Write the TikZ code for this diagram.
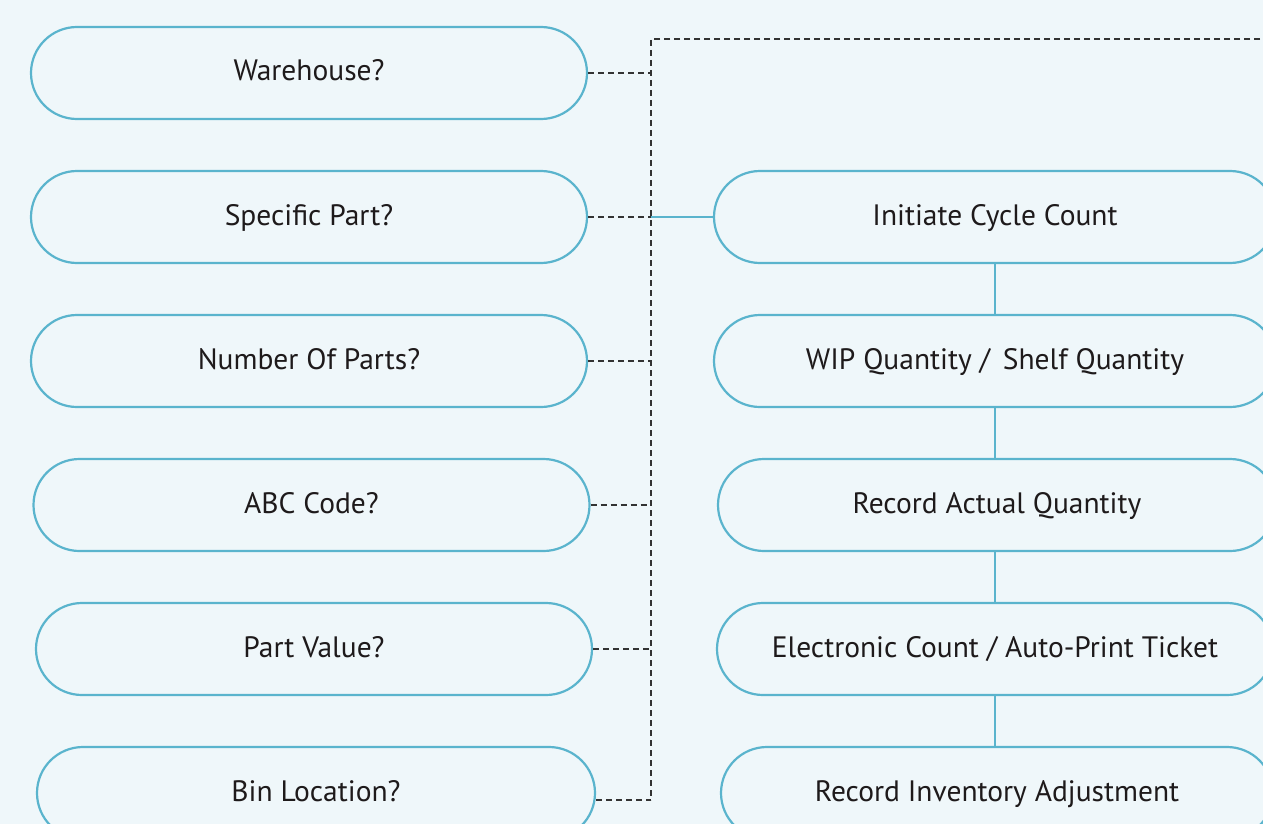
\documentclass[tikz,border=0pt]{standalone}
\usepackage{fontspec}
\setmainfont{PT Sans}
\definecolor{bg}{HTML}{EFF7FA}
\definecolor{tealb}{HTML}{5AB4CD}
\definecolor{txt}{HTML}{1E1A1B}
\definecolor{dashc}{HTML}{333333}
\begin{document}
\begin{tikzpicture}[x=1pt,y=-1pt,
 pill/.style={draw=tealb, line width=2.2pt, rounded corners=46pt, minimum height=92pt, inner sep=0pt, text height=22pt, text depth=6pt, text=txt, font=\fontsize{29.5}{32}\selectfont},
 dashline/.style={draw=dashc, line width=1.8pt, dash pattern=on 6pt off 4pt},
 solidline/.style={draw=tealb, line width=2.2pt}]
\fill[bg] (0,0) rectangle (1263,824);
\useasboundingbox (0,0) rectangle (1263,824);
\clip (0,0) rectangle (1263,824);
% left column
\node[pill, minimum width=556pt] (L1) at (309,73) {Warehouse?};
\node[pill, minimum width=556pt] (L2) at (309,217) {Specific Part?};
\node[pill, minimum width=556pt] (L3) at (309,361) {Number Of Parts?};
\node[pill, minimum width=556pt] (L4) at (311.5,505) {ABC Code?};
\node[pill, minimum width=556pt] (L5) at (314,649) {Part Value?};
\node[pill, minimum width=558pt] (L6) at (316,793) {Bin Location?};
% right column
\node[pill, minimum width=562pt] (R1) at (995,217) {Initiate Cycle Count};
\node[pill, minimum width=562pt] (R2) at (995,361) {WIP Quantity /\, Shelf Quantity};
\node[pill, minimum width=558pt] (R3) at (997,505) {Record Actual Quantity};
\node[pill, minimum width=556pt] (R4) at (995,649) {Electronic Count / Auto-Print Ticket};
\node[pill, minimum width=552pt] (R5) at (997,793) {Record Inventory Adjustment};
% junction coordinates
\coordinate (jtop) at (651,39);
\coordinate (jbot) at (651,800);
\coordinate (jend) at (1270,39);
\coordinate (j2) at (651,217);
% dashed bus
\draw[dashline] (jend) -- (jtop) -- (jbot);
\draw[dashline] (L1.east) -- (L1.east -| jtop);
\draw[dashline] (L2.east) -- (j2);
\draw[dashline] (L3.east) -- (L3.east -| jtop);
\draw[dashline] (L4.east) -- (L4.east -| jtop);
\draw[dashline] (L5.east) -- (L5.east -| jtop);
\draw[dashline] (L6.east |- jbot) -- (jbot);
% solid connectors
\draw[solidline] (j2) -- (R1.west);
\draw[solidline] (R1.south -| 995,0) -- (R2.north -| 995,0);
\draw[solidline] (R2.south -| 995,0) -- (R3.north -| 995,0);
\draw[solidline] (R3.south -| 995,0) -- (R4.north -| 995,0);
\draw[solidline] (R4.south -| 995,0) -- (R5.north -| 995,0);
\end{tikzpicture}
\end{document}
